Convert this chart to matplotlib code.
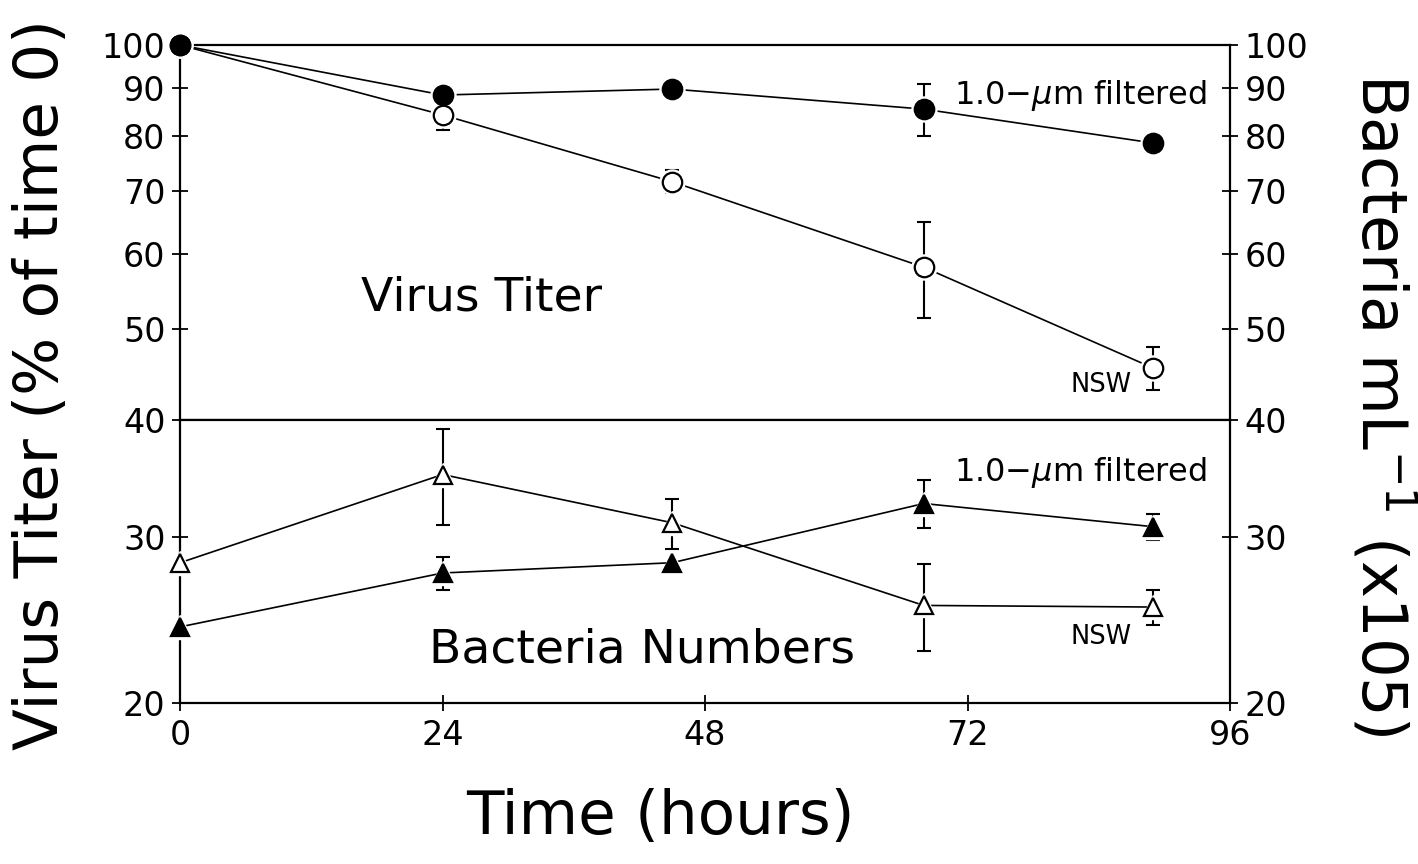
import matplotlib
matplotlib.use("Agg")
import matplotlib.pyplot as plt
import numpy as np

plt.rcParams['font.family'] = ['DejaVu Sans']
plt.rcParams['mathtext.fontset'] = 'dejavusans'

# ---- data ----
time_h = [0, 24, 45, 68, 89]

virus_filtered = [100, 88.5, 89.8, 85.5, 78.7]
virus_filtered_err = [0, 0, 0, 5.5, 0]
virus_nsw = [100, 84.3, 71.6, 58.1, 45.4]
virus_nsw_err = [0, 3.0, 2.0, 6.8, 2.4]

bact_nsw = [28.2, 35.0, 31.1, 25.4, 25.3]
bact_nsw_err = [0, 4.1, 1.9, 2.7, 1.1]
bact_filtered = [24.1, 27.5, 28.2, 32.6, 30.8]
bact_filtered_err = [0, 1.1, 0, 1.9, 1.0]

x_ticks = [0, 24, 48, 72, 96]
top_yticks = [40, 50, 60, 70, 80, 90, 100]
bot_yticks = [20, 30, 40]

fig = plt.figure(figsize=(14.18, 8.64), dpi=100)
ax1 = fig.add_axes([0.127, 0.5139, 0.7404, 0.4340])
ax2 = fig.add_axes([0.127, 0.1863, 0.7404, 0.3276])

LW = 1.2


def series(ax, y, err, marker, filled, ms):
    ax.errorbar(time_h, y, yerr=[e if e > 0 else np.nan for e in err],
                fmt='none', ecolor='black', elinewidth=1.5, capsize=5,
                capthick=1.5, zorder=2)
    ax.plot(time_h, y, '-', color='black', lw=LW, zorder=1)
    # white halo to create a small gap between line and marker
    ax.plot(time_h, y, linestyle='none', marker=marker, ms=ms + 4,
            mfc='white', mec='white', zorder=3, clip_on=False)
    ax.plot(time_h, y, linestyle='none', marker=marker, ms=ms,
            mfc='black' if filled else 'white', mec='black', mew=1.6,
            zorder=4, clip_on=False)


series(ax1, virus_nsw, virus_nsw_err, 'o', False, 14)
series(ax1, virus_filtered, virus_filtered_err, 'o', True, 14)
series(ax2, bact_nsw, bact_nsw_err, '^', False, 13)
series(ax2, bact_filtered, bact_filtered_err, '^', True, 13)

for ax in (ax1, ax2):
    ax.set_yscale('log')
    ax.set_xlim(0, 96)
    ax.minorticks_off()
    for s in ax.spines.values():
        s.set_linewidth(1.6)
    ax.tick_params(axis='y', which='both', left=True, right=True,
                   labelleft=True, labelright=True, direction='inout',
                   length=11, width=1.3, labelsize=24, pad=5)
    ax.yaxis.set_minor_locator(matplotlib.ticker.NullLocator())

ax1.set_ylim(40, 100)
ax1.set_yticks(top_yticks[1:])
ax1.set_yticklabels([str(v) for v in top_yticks[1:]])
ax1.tick_params(axis='x', bottom=False, labelbottom=False)

ax2.set_ylim(20, 40)
ax2.set_yticks(bot_yticks)
ax2.set_yticklabels([str(v) for v in bot_yticks])
ax2.set_xticks(x_ticks)
ax2.set_xticklabels([str(v) for v in x_ticks])
ax2.tick_params(axis='x', direction='inout', length=11, width=1.3,
                labelsize=24, pad=6)

# in-panel annotations
ax1.text(27.6, 53.9, 'Virus Titer', fontsize=34, ha='center', va='center')
ax1.text(70.8, 88.5, '1.0$-\\mu$m filtered', fontsize=23, ha='left', va='center')
ax1.text(81.4, 43.6, 'NSW', fontsize=18.5, ha='left', va='center')

ax2.text(42.2, 22.8, 'Bacteria Numbers', fontsize=34, ha='center', va='center')
ax2.text(70.8, 35.2, '1.0$-\\mu$m filtered', fontsize=23, ha='left', va='center')
ax2.text(81.4, 23.5, 'NSW', fontsize=18.5, ha='left', va='center')

fig.text(660 / 1418, 1 - 818 / 864, 'Time (hours)', fontsize=44, ha='center', va='center')
fig.text(42 / 1418, 1 - 385 / 864, 'Virus Titer (% of time 0)', fontsize=44,
         rotation=90, ha='center', va='center')
fig.text(1383 / 1418, 1 - 405 / 864, 'Bacteria mL$^{-1}$ (x105)', fontsize=45,
         rotation=270, ha='center', va='center')

fig.savefig('out.png', dpi=100, facecolor='white')
